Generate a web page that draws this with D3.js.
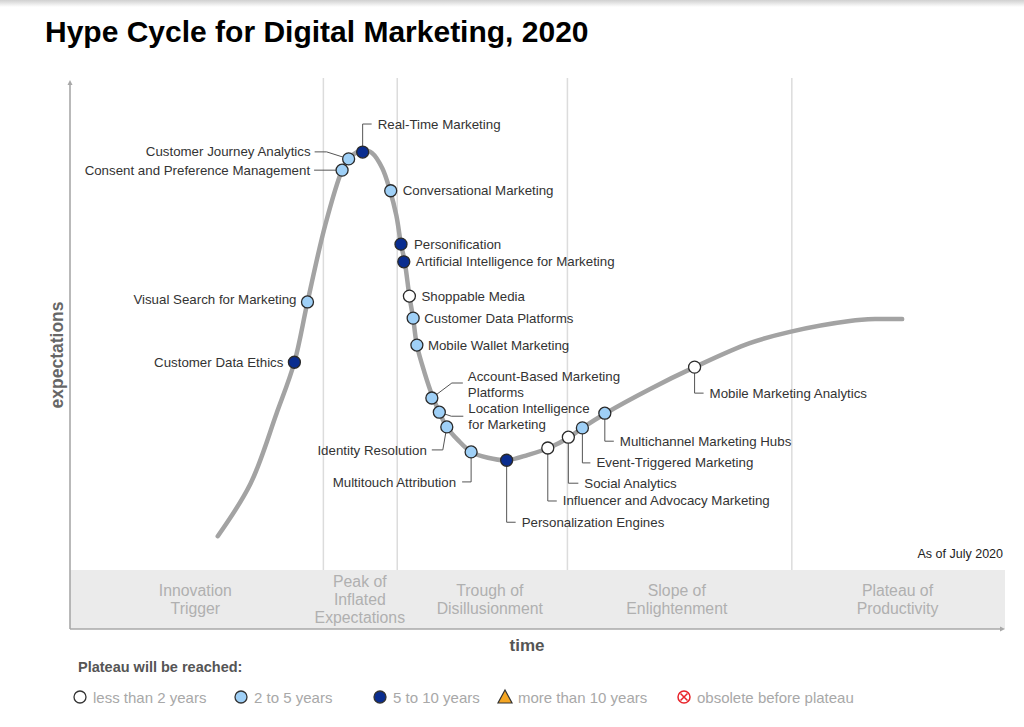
<!DOCTYPE html>
<html><head><meta charset="utf-8">
<script src="https://cdn.jsdelivr.net/npm/d3@7"></script>
<style>
html,body{margin:0;padding:0;background:#fff;}
svg{display:block;font-family:"Liberation Sans",Arial,Helvetica,sans-serif;}
</style></head>
<body>
<svg id="chart" width="1024" height="727"></svg>
<script>
// ---------- data ----------
const title = "Hype Cycle for Digital Marketing, 2020";
const asOf = "As of July 2020";

// hype curve (time 0-100, expectations 0-100)
const curveTime   = [15.8,19.3,22.1,24.0,25.4,27.3,29.1,29.8,30.7,31.4,32.3,33.4,34.2,34.9,35.4,35.8,36.3,36.7,37.1,37.9,38.8,39.5,40.3,41.5,42.9,44.7,46.7,49.0,51.2,53.4,54.8,57.3,62.0,66.8,72.7,77.0,83.4,86.1,89.0];
const curveExpect = [6.9,17.6,32.0,42.4,54.7,70.4,81.6,83.9,85.3,85.7,85.1,82.0,77.6,72.4,66.5,62.9,55.9,51.4,45.9,40.4,35.3,32.2,29.2,26.5,24.1,22.9,22.4,23.5,24.9,27.1,29.0,32.0,36.9,41.4,46.3,48.6,50.8,51.2,51.2];

// technologies
const itemNames = ["Real-Time Marketing","Customer Journey Analytics","Consent and Preference Management",
  "Conversational Marketing","Personification","Artificial Intelligence for Marketing","Shoppable Media",
  "Customer Data Platforms","Mobile Wallet Marketing","Account-Based Marketing Platforms",
  "Location Intelligence for Marketing","Identity Resolution","Multitouch Attribution",
  "Personalization Engines","Influencer and Advocacy Marketing","Social Analytics",
  "Event-Triggered Marketing","Multichannel Marketing Hubs","Mobile Marketing Analytics",
  "Visual Search for Marketing","Customer Data Ethics"];
const itemTime   = [31.3,29.8,29.1,34.3,35.4,35.7,36.3,36.7,37.1,38.7,39.5,40.3,42.9,46.7,51.1,53.3,54.8,57.2,66.8,25.4,24.0];
const itemExpect = [85.3,83.9,81.6,77.4,66.5,62.9,55.9,51.4,45.9,35.1,32.2,29.2,24.1,22.4,24.9,27.1,29.0,32.0,41.4,54.7,42.4];
// years to plateau: 0 = <2, 1 = 2-5, 2 = 5-10
const itemPlateau = [2,1,1,1,2,2,0,1,1,1,1,1,1,2,0,0,1,1,0,1,2];

// phases
const phaseNames = [["Innovation","Trigger"],["Peak of","Inflated","Expectations"],["Trough of","Disillusionment"],["Slope of","Enlightenment"],["Plateau of","Productivity"]];
const phaseCenters = [13.4,31.0,44.9,64.9,88.5];
const phaseBounds = [27.1,35.0,53.2,77.2];

// legend
const legendTitle = "Plateau will be reached:";
const legendLabels = ["less than 2 years","2 to 5 years","5 to 10 years","more than 10 years","obsolete before plateau"];

// ---------- layout / style ----------
const W = 1024, H = 727;
const plotL = 70, plotR = 1005, plotTop = 80, bandTop = 570, axisY = 629;
const fills = ["#ffffff","#9fd0f7","#0a2d8f"];
// label layout in pixels, relative to dot: leader polyline, label anchor point, text-anchor
const labelLayout = {
  "Real-Time Marketing": {leader:[[0,0],[0,-28],[9,-28]], at:[15,-28], anchor:"start"},
  "Customer Journey Analytics": {leader:[[0,0],[-22,-7],[-34,-7]], at:[-38,-7], anchor:"end"},
  "Consent and Preference Management": {leader:[[0,0],[-28,0]], at:[-32,0], anchor:"end"},
  "Conversational Marketing": {at:[12,0], anchor:"start"},
  "Personification": {at:[13,0], anchor:"start"},
  "Artificial Intelligence for Marketing": {at:[12,0], anchor:"start"},
  "Shoppable Media": {at:[12,0], anchor:"start"},
  "Customer Data Platforms": {at:[11,0], anchor:"start"},
  "Mobile Wallet Marketing": {at:[11,0], anchor:"start"},
  "Account-Based Marketing Platforms": {leader:[[0,0],[20,-15],[31,-15]], at:[36,-22], anchor:"start", lines:["Account-Based Marketing","Platforms"]},
  "Location Intelligence for Marketing": {leader:[[0,0],[12,4],[24,4]], at:[29,-4], anchor:"start", lines:["Location Intelligence","for Marketing"]},
  "Identity Resolution": {leader:[[0,0],[-4,23],[-15,23]], at:[-20,24], anchor:"end"},
  "Multitouch Attribution": {leader:[[0,0],[0,30],[-9,30]], at:[-15,31], anchor:"end"},
  "Personalization Engines": {leader:[[0,0],[0,62],[9,62]], at:[15,62], anchor:"start"},
  "Influencer and Advocacy Marketing": {leader:[[0,0],[0,53],[9,53]], at:[15,53], anchor:"start"},
  "Social Analytics": {leader:[[0,0],[0,46],[10,46]], at:[16,46], anchor:"start"},
  "Event-Triggered Marketing": {leader:[[0,0],[0,35],[8,35]], at:[14,35], anchor:"start"},
  "Multichannel Marketing Hubs": {leader:[[0,0],[0,28],[9,28]], at:[15,28], anchor:"start"},
  "Mobile Marketing Analytics": {leader:[[0,0],[0,26],[9,26]], at:[15,26], anchor:"start"},
  "Visual Search for Marketing": {at:[-11,-2], anchor:"end"},
  "Customer Data Ethics": {at:[-11,0], anchor:"end"}
};

const svg = d3.select("#chart");
const x = d3.scaleLinear().domain([0,100]).range([plotL,plotR]);
const y = d3.scaleLinear().domain([0,100]).range([bandTop,plotTop]);

// top shadow
const defs = svg.append("defs");
const g0 = defs.append("linearGradient").attr("id","shade").attr("x1",0).attr("x2",0).attr("y1",0).attr("y2",1);
g0.append("stop").attr("offset","0%").attr("stop-color","#d0d0d0");
g0.append("stop").attr("offset","100%").attr("stop-color","#ffffff");
svg.append("rect").attr("x",0).attr("y",0).attr("width",W).attr("height",7).attr("fill","url(#shade)");

// title
svg.append("text").attr("x",45).attr("y",42).attr("font-size",30).attr("font-weight","bold")
  .attr("fill","#000").text(title);

// phase band
svg.append("rect").attr("x",plotL).attr("y",bandTop).attr("width",plotR-plotL).attr("height",axisY-bandTop).attr("fill","#ebebeb");

// dividers
svg.selectAll("line.div").data(phaseBounds).join("line").attr("class","div")
  .attr("x1",d=>x(d)).attr("x2",d=>x(d)).attr("y1",plotTop-2).attr("y2",bandTop)
  .attr("stroke","#dcdcdc").attr("stroke-width",1.5);

// axes
svg.append("line").attr("x1",plotL).attr("x2",plotL).attr("y1",axisY).attr("y2",plotTop+3).attr("stroke","#a8a8a8").attr("stroke-width",1.6);
svg.append("path").attr("d",`M${plotL-2.5},${plotTop+5}L${plotL},${plotTop}L${plotL+2.5},${plotTop+5}Z`).attr("fill","#a8a8a8");
svg.append("line").attr("x1",plotL).attr("x2",plotR-3).attr("y1",axisY).attr("y2",axisY).attr("stroke","#a8a8a8").attr("stroke-width",1.6);
svg.append("path").attr("d",`M${plotR-5},${axisY-2.5}L${plotR},${axisY}L${plotR-5},${axisY+2.5}Z`).attr("fill","#a8a8a8");

// phase labels
phaseNames.forEach((lines,i)=>{
  const n = lines.length;
  const t = svg.append("text").attr("text-anchor","middle").attr("font-size",15.8).attr("fill","#b0b0b0");
  lines.forEach((s,j)=>{
    t.append("tspan").attr("x",x(phaseCenters[i])).attr("y",(bandTop+axisY)/2 + (j-(n-1)/2)*18 + 5.5).text(s);
  });
});

// axis titles
svg.append("text").attr("x",527).attr("y",651).attr("text-anchor","middle").attr("font-size",17).attr("font-weight","bold").attr("fill","#555").text("time");
svg.append("text").attr("transform","translate(63,355) rotate(-90)").attr("text-anchor","middle").attr("font-size",17.5).attr("font-weight","bold").attr("fill","#666").text("expectations");

// as of
svg.append("text").attr("x",1003).attr("y",558).attr("text-anchor","end").attr("font-size",12.5).attr("fill","#222").text(asOf);

// curve
const curvePts = curveTime.map((t,i)=>[x(t),y(curveExpect[i])]);
svg.append("path").attr("d",d3.line().curve(d3.curveCatmullRom.alpha(0.5))(curvePts))
  .attr("fill","none").attr("stroke","#a3a3a3").attr("stroke-width",4.5).attr("stroke-linecap","round");

// items
const items = itemNames.map((n,i)=>({name:n,t:itemTime[i],e:itemExpect[i],p:itemPlateau[i]}));
const gl = svg.append("g");
items.forEach(d=>{
  const L = labelLayout[d.name];
  const cx = x(d.t), cy = y(d.e);
  if (L.leader){
    gl.append("path").attr("d",d3.line()(L.leader.map(p=>[cx+p[0],cy+p[1]])))
      .attr("fill","none").attr("stroke","#555").attr("stroke-width",1);
  }
  const t = gl.append("text").attr("font-size",13.3).attr("fill","#333").attr("text-anchor",L.anchor);
  const lines = L.lines || [d.name];
  lines.forEach((s,j)=>{
    t.append("tspan").attr("x",cx+L.at[0]).attr("y",cy+L.at[1]+j*16+4.5).text(s);
  });
});
svg.append("g").selectAll("circle").data(items).join("circle")
  .attr("cx",d=>x(d.t)).attr("cy",d=>y(d.e)).attr("r",6)
  .attr("fill",d=>fills[d.p]).attr("stroke","#2a2a2a").attr("stroke-width",1.3);

// legend
svg.append("text").attr("x",78).attr("y",672).attr("font-size",14.5).attr("font-weight","bold").attr("fill","#555").text(legendTitle);
const legX = [80,241,380,505,684];
const legY = 697;
const lg = svg.append("g");
legendLabels.forEach((s,i)=>{
  const cx = legX[i];
  if (i<3){
    lg.append("circle").attr("cx",cx).attr("cy",legY).attr("r",6).attr("fill",fills[i]).attr("stroke","#333").attr("stroke-width",1.3);
  } else if (i===3){
    lg.append("path").attr("d",`M${cx},${legY-7}L${cx+7},${legY+6}L${cx-7},${legY+6}Z`).attr("fill","#f5a623").attr("stroke","#333").attr("stroke-width",1.2);
  } else {
    lg.append("circle").attr("cx",cx).attr("cy",legY).attr("r",6).attr("fill","#fff").attr("stroke","#e8232a").attr("stroke-width",1.5);
    lg.append("path").attr("d",`M${cx-3.5},${legY-3.5}L${cx+3.5},${legY+3.5}M${cx+3.5},${legY-3.5}L${cx-3.5},${legY+3.5}`).attr("stroke","#e8232a").attr("stroke-width",1.5);
  }
  lg.append("text").attr("x",cx+13).attr("y",legY+5.5).attr("font-size",15).attr("fill","#a8a8a8").text(s);
});
</script>
</body></html>
